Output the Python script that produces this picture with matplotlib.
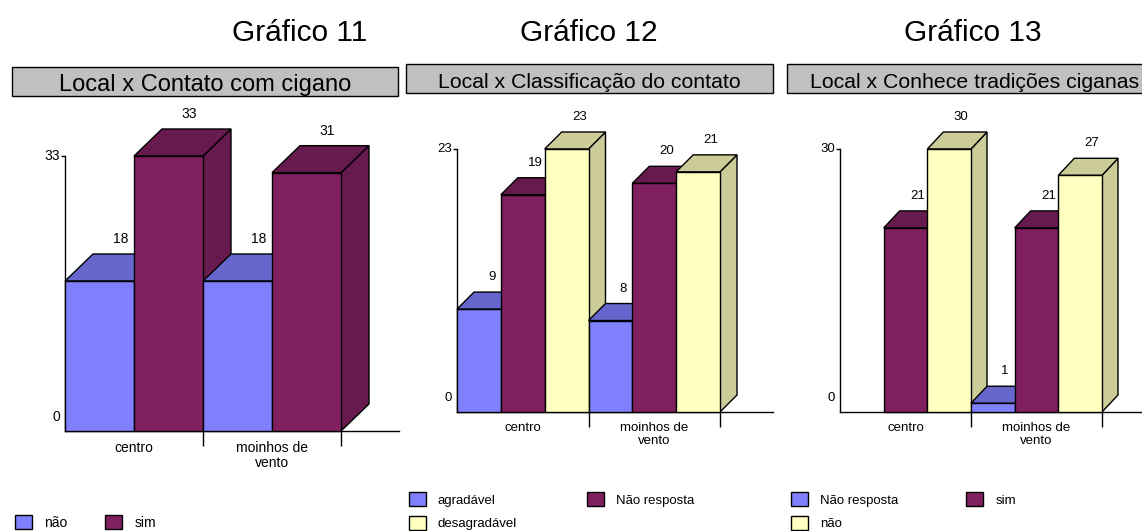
import matplotlib.pyplot as plt
from matplotlib.patches import Polygon, Rectangle, Patch

plt.rcParams['font.family'] = ['Liberation Sans', 'DejaVu Sans']

W, H = 1142, 531

locais = ['centro', 'moinhos de\nvento']

# Gráfico 11 - Local x Contato com cigano
labels11 = ['não', 'sim']
nao11 = [18, 18]
sim11 = [33, 31]

# Gráfico 12 - Local x Classificação do contato
labels12 = ['agradável', 'Não resposta', 'desagradável']
agradavel12 = [9, 8]
naoresp12 = [19, 20]
desagradavel12 = [23, 21]

# Gráfico 13 - Local x Conhece tradições ciganas
labels13 = ['Não resposta', 'sim', 'não']
naoresp13 = [0, 1]
sim13 = [21, 21]
nao13 = [30, 27]

# (frente, topo/lado)
azul = ('#8080FF', '#6666CC')
roxo = ('#802060', '#661A4D')
amarelo = ('#FFFFC0', '#CCCC99')

fig = plt.figure(figsize=(W / 100, H / 100), dpi=100)


def px_axes(left, right, base, top):
    return fig.add_axes([left / W, 1 - base / H, (right - left) / W, (base - top) / H])


def grafico(ax, series, cores, ymax, gw, ppu, dx, dy, xr, fs):
    n = len(series)
    w = 1.0 / n
    ddx = dx / gw
    ddy = dy / ppu
    z = 3
    for i in range(len(locais)):
        for k, vals in enumerate(series):
            v = vals[i]
            if v == 0:
                continue
            x0 = i - 0.5 + k * w
            x1 = x0 + w
            frente, escuro = cores[k]
            lado = Polygon([(x1, 0), (x1 + ddx, ddy), (x1 + ddx, v + ddy), (x1, v)],
                           closed=True, fc=escuro, ec='black', lw=1, zorder=z, clip_on=False)
            topo = Polygon([(x0, v), (x0 + ddx, v + ddy), (x1 + ddx, v + ddy), (x1, v)],
                           closed=True, fc=escuro, ec='black', lw=1, zorder=z, clip_on=False)
            ax.add_patch(lado)
            ax.add_patch(topo)
            ax.bar(x0, v, width=w, align='edge', color=frente, edgecolor='black', lw=1,
                   zorder=z + 0.5, clip_on=False)
            ax.annotate(str(v), (x0 + w / 2 + 0.75 * ddx, v + ddy), xytext=(0, 15),
                        textcoords='offset pixels', ha='center', va='center', fontsize=fs,
                        annotation_clip=False)
            z += 1

    ax.set_xlim(-0.5, xr)
    ax.set_ylim(0, ymax)
    ax.patch.set_alpha(0)
    ax.spines[['top', 'right']].set_visible(False)
    for s in ['left', 'bottom']:
        ax.spines[s].set_linewidth(1)
    ax.set_xticks([0.5, 1.5])
    ax.set_xticklabels([])
    ax.set_xticks([0, 1], labels=locais, minor=True)
    ax.tick_params(axis='x', which='major', length=11, width=1)
    ax.tick_params(axis='x', which='minor', length=0, pad=7, labelsize=fs)
    for t in ax.xaxis.get_minor_ticks():
        t.label1.set_linespacing(1.12)
    ax.set_yticks([ymax])
    ax.set_yticklabels([])
    ax.tick_params(axis='y', length=3, width=1)
    ax.annotate(str(ymax), (-0.5, ymax), xytext=(-5, 0), textcoords='offset pixels',
                ha='right', va='center', fontsize=fs, annotation_clip=False)
    ax.annotate('0', (-0.5, 0), xytext=(-5, 14), textcoords='offset pixels',
                ha='right', va='center', fontsize=fs, annotation_clip=False)


def legenda(ax, labels, cores, ordem, x, y, fs, colsp):
    fpx = fs * 100 / 72
    handles = [Patch(fc=cores[k][0], ec='black', lw=1) for k in ordem]
    ax.legend(handles, [labels[k] for k in ordem], loc='upper left',
              bbox_to_anchor=(x / W, 1 - y / H), bbox_transform=fig.transFigure,
              ncol=2, frameon=False, borderpad=0, borderaxespad=0, fontsize=fs,
              handlelength=17 / fpx, handleheight=17 / fpx, handletextpad=12 / fpx,
              labelspacing=9 / fpx, columnspacing=colsp / fpx)


def cabecalho(cx, num, x0, x1, y0, y1, titulo, fs):
    fig.text(cx / W, 1 - 41 / H, num, fontsize=21.5, ha='center', va='baseline')
    fig.add_artist(Rectangle((x0 / W, 1 - y1 / H), (x1 - x0) / W, (y1 - y0) / H,
                             transform=fig.transFigure, fc='#C0C0C0', ec='black', lw=1))
    fig.text((x0 + x1) / 2 / W, 1 - (y1 - 4.5) / H, titulo, fontsize=fs,
             ha='center', va='baseline')


# Gráfico 11
ax1 = px_axes(65, 399, 431, 156)
grafico(ax1, [nao11, sim11], [azul, roxo], 33, 138, 275 / 33, 28, 27,
        -0.5 + (399 - 65) / 138, 10)
legenda(ax1, labels11, [azul, roxo], [0, 1], 15, 515, 10, 38)
cabecalho(300, 'Gráfico 11', 12, 398, 67, 96, 'Local x Contato com cigano', 17)

# Gráfico 12
ax2 = px_axes(457, 773, 412, 149)
grafico(ax2, [agradavel12, naoresp12, desagradavel12], [azul, roxo, amarelo], 23, 131.5,
        263 / 23, 17, 17, -0.5 + (773 - 457) / 131.5, 9.5)
legenda(ax2, labels12, [azul, roxo, amarelo], [0, 2, 1], 409, 492, 9.5, 70)
cabecalho(589, 'Gráfico 12', 406, 773, 64, 93, 'Local x Classificação do contato', 15.3)

# Gráfico 13
ax3 = px_axes(840, 1142, 412, 149)
grafico(ax3, [naoresp13, sim13, nao13], [azul, roxo, amarelo], 30, 131,
        263 / 30, 16, 17, -0.5 + (1142 - 840) / 131, 9.5)
legenda(ax3, labels13, [azul, roxo, amarelo], [0, 2, 1], 791, 492, 9.5, 68)
cabecalho(973, 'Gráfico 13', 787, 1162, 64, 93, 'Local x Conhece tradições ciganas', 15.3)

fig.savefig('out.png', dpi=100)
